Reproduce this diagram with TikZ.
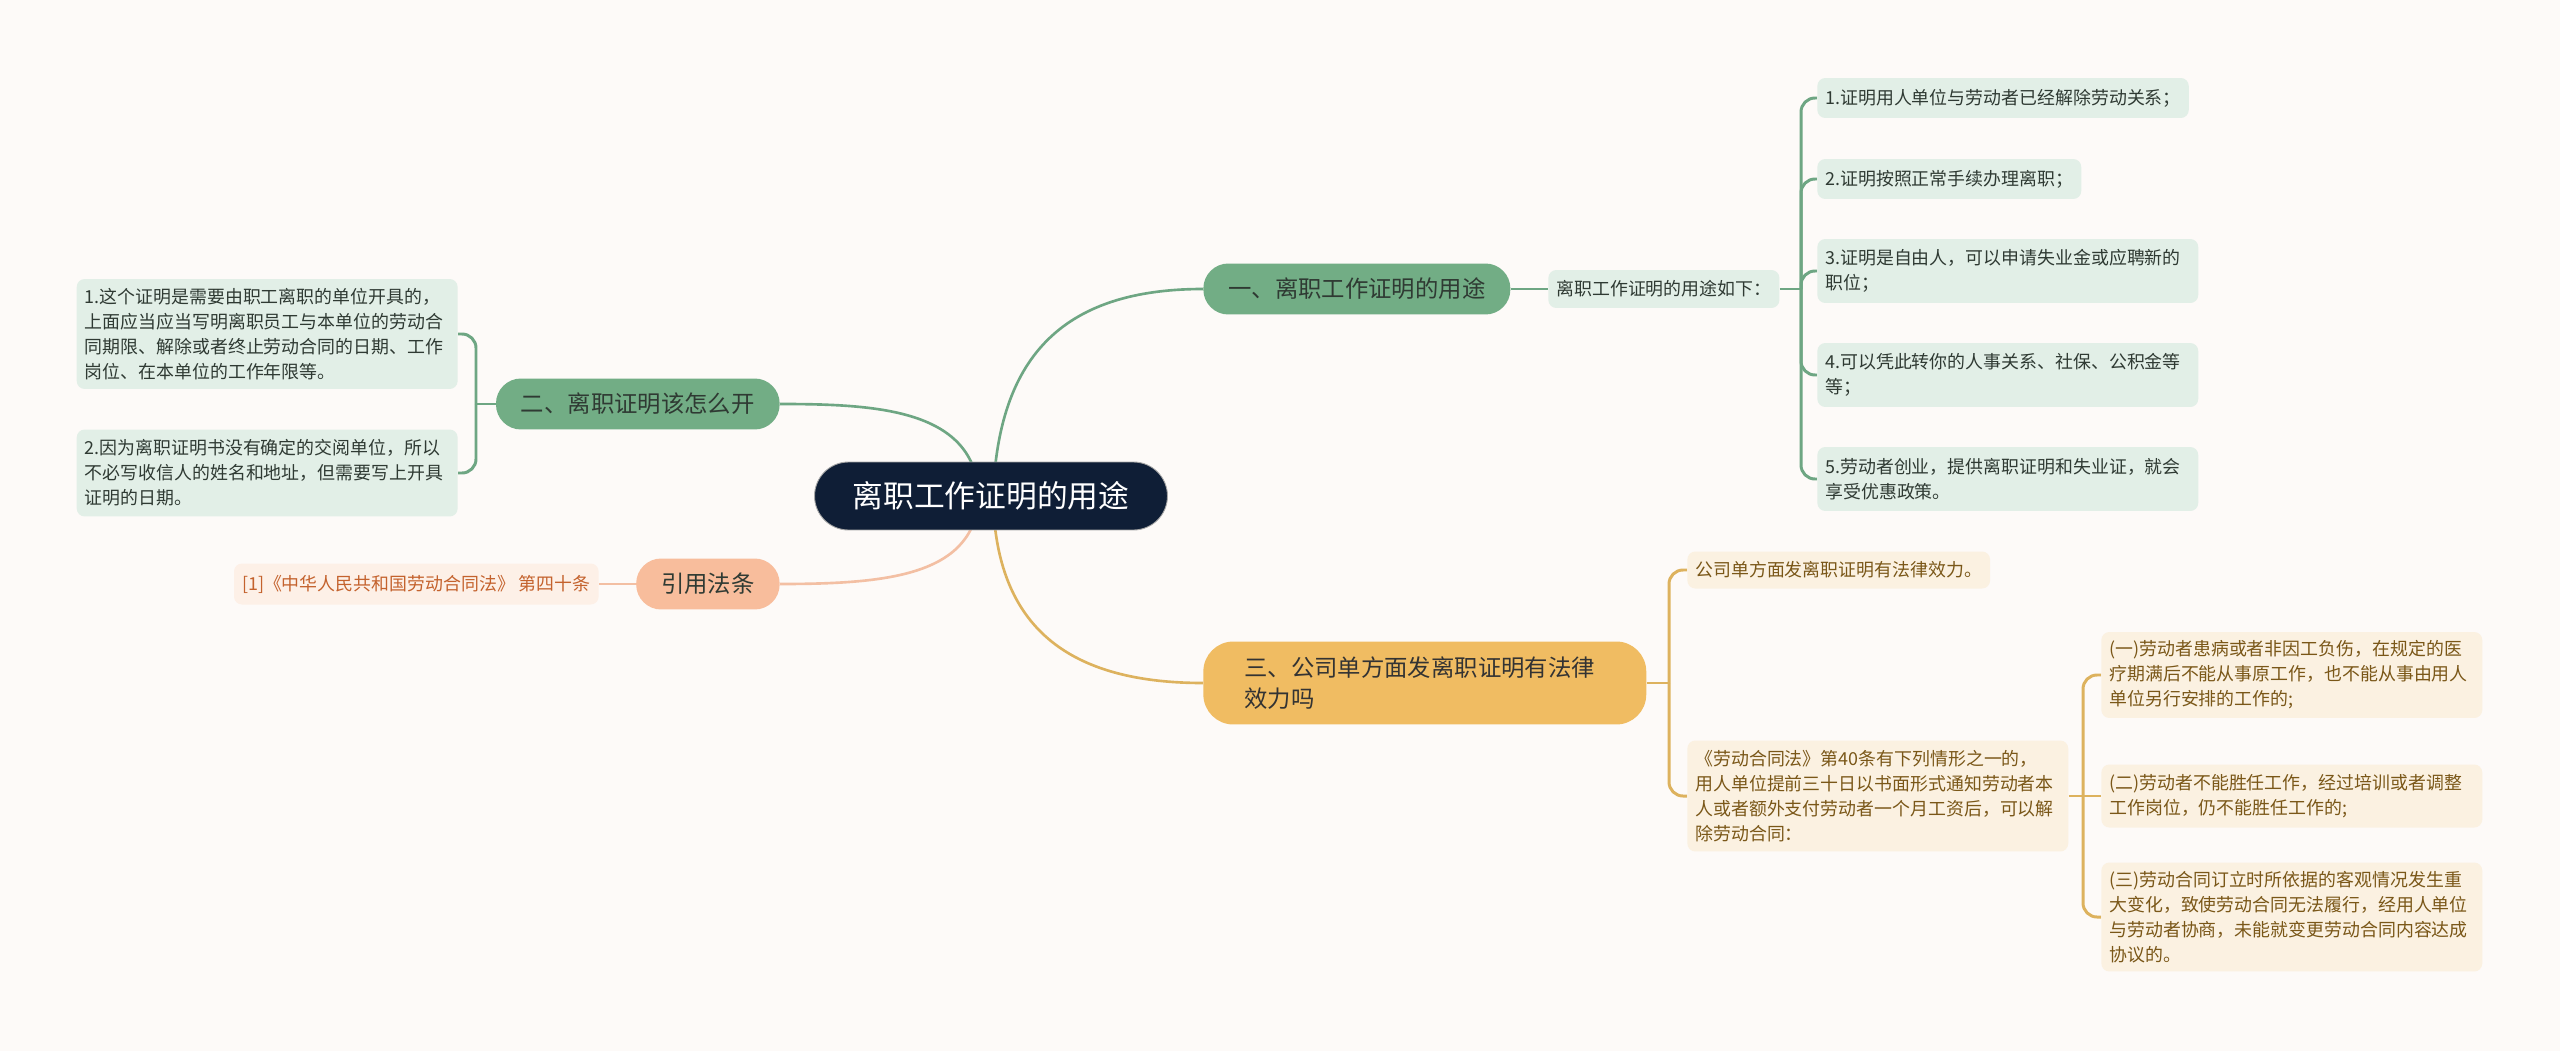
\documentclass[tikz,border=0pt]{standalone}
\usepackage{fontspec}
\setmainfont{Noto Sans CJK SC}
\usepackage{tikz}
\usetikzlibrary{backgrounds}
\definecolor{mBg}{HTML}{FDFAF8}
\definecolor{mNavy}{HTML}{0F1E36}
\definecolor{mText}{HTML}{2F3A33}
\definecolor{mGreen}{HTML}{72AD85}
\definecolor{mGreenLine}{HTML}{6EA683}
\definecolor{mGreenLeaf}{HTML}{E2EFE7}
\definecolor{mSalmon}{HTML}{F8BD9C}
\definecolor{mSalmonLine}{HTML}{F3BFA3}
\definecolor{mSalmonLeaf}{HTML}{FDF0E7}
\definecolor{mSalmonText}{HTML}{C4622D}
\definecolor{mYellow}{HTML}{F0BC62}
\definecolor{mYellowLine}{HTML}{DDB25E}
\definecolor{mYellowLeaf}{HTML}{FBF1E1}
\definecolor{mYellowText}{HTML}{7A5718}

\begin{document}
\begin{tikzpicture}[x=0.02cm, y=-0.02cm,
      rootbox/.style={fill=mNavy, draw=black!35, line width=0.5pt, text=white,
        rounded corners=0.68cm, minimum width=7.06cm, minimum height=1.36cm,
        font=\fontsize{17.5}{21}\selectfont},
      mainbox/.style={rounded corners=0.5cm, minimum height=1.02cm, inner xsep=0.5cm,
        font=\fontsize{13.3}{17.6}\selectfont},
      leafbox/.style={rounded corners=0.16cm, inner xsep=0.16cm, inner ysep=0.16cm,
        align=left, font=\fontsize{10.2}{14.2}\selectfont},
      gleaf/.style={leafbox, fill=mGreenLeaf, text=mText},
      sleaf/.style={leafbox, fill=mSalmonLeaf, text=mSalmonText},
      yleaf/.style={leafbox, fill=mYellowLeaf, text=mYellowText},
      gline/.style={draw=mGreenLine, line width=1.5pt},
      sline/.style={draw=mSalmonLine, line width=1.5pt},
      yline/.style={draw=mYellowLine, line width=1.5pt},
      brace/.style={line width=1.7pt, rounded corners=0.28cm}]
    \useasboundingbox (0,0) rectangle (2560,1051);
    % root
    \node[rootbox] (root) at (991,496) {离职工作证明的用途};
    % branch one
    \node[mainbox, fill=mGreen, text=mText, anchor=west] (one) at (1203,289) {一、离职工作证明的用途};
    \node[gleaf, anchor=west, minimum height=0.76cm] (use) at (1548,289) {离职工作证明的用途如下：};
    \node[gleaf, anchor=west, minimum height=0.8cm] (use1) at (1817,98) {1.证明用人单位与劳动者已经解除劳动关系；};
    \node[gleaf, anchor=west, minimum height=0.8cm] (use2) at (1817,179) {2.证明按照正常手续办理离职；};
    \node[gleaf, anchor=west, text width=7.3cm, minimum height=1.28cm] (use3) at (1817,271) {3.证明是自由人，可以申请失业金或应聘新的\\职位；};
    \node[gleaf, anchor=west, text width=7.3cm, minimum height=1.28cm] (use4) at (1817,375) {4.可以凭此转你的人事关系、社保、公积金等\\等；};
    \node[gleaf, anchor=west, text width=7.3cm, minimum height=1.28cm] (use5) at (1817,479) {5.劳动者创业，提供离职证明和失业证，就会\\享受优惠政策。};
    % branch two
    \node[mainbox, fill=mGreen, text=mText, anchor=east] (two) at (780,404) {二、离职证明该怎么开};
    \node[gleaf, anchor=east, text width=7.3cm, minimum height=2.2cm] (how1) at (458,334) {1.这个证明是需要由职工离职的单位开具的，\\上面应当应当写明离职员工与本单位的劳动合\\同期限、解除或者终止劳动合同的日期、工作\\岗位、在本单位的工作年限等。};
    \node[gleaf, anchor=east, text width=7.3cm, minimum height=1.74cm] (how2) at (458,473) {2.因为离职证明书没有确定的交阅单位，所以\\不必写收信人的姓名和地址，但需要写上开具\\证明的日期。};
    % cited law
    \node[mainbox, fill=mSalmon, text=mText, anchor=east] (law) at (780,584) {引用法条};
    \node[sleaf, anchor=east, minimum height=0.82cm] (law1) at (599,584) {[1]《中华人民共和国劳动合同法》 第四十条};
    % branch three
    \node[mainbox, fill=mYellow, text=black!80, anchor=west, align=left, text width=7.22cm,
      inner xsep=0.82cm, minimum height=1.66cm, rounded corners=0.6cm] (three) at (1203,683)
      {三、公司单方面发离职证明有法律\\效力吗};
    \node[yleaf, anchor=west, minimum height=0.74cm] (valid) at (1687,570) {公司单方面发离职证明有法律效力。};
    \node[yleaf, anchor=west, text width=7.3cm, minimum height=2.22cm] (art) at (1687,796) {《劳动合同法》第40条有下列情形之一的，\\用人单位提前三十日以书面形式通知劳动者本\\人或者额外支付劳动者一个月工资后，可以解\\除劳动合同：};
    \node[yleaf, anchor=west, text width=7.3cm, minimum height=1.72cm] (case1) at (2101,675) {(一)劳动者患病或者非因工负伤，在规定的医\\疗期满后不能从事原工作，也不能从事由用人\\单位另行安排的工作的;};
    \node[yleaf, anchor=west, text width=7.3cm, minimum height=1.26cm] (case2) at (2101,796) {(二)劳动者不能胜任工作，经过培训或者调整\\工作岗位，仍不能胜任工作的;};
    \node[yleaf, anchor=west, text width=7.3cm, minimum height=2.18cm] (case3) at (2101,917) {(三)劳动合同订立时所依据的客观情况发生重\\大变化，致使劳动合同无法履行，经用人单位\\与劳动者协商，未能就变更劳动合同内容达成\\协议的。};
    % joints of the braces
    \coordinate (j1) at (1801,289);
    \coordinate (j2) at (476,404);
    \coordinate (j3) at (1669,683);
    \coordinate (j4) at (2083,796);
    \begin{scope}[on background layer]
      \fill[mBg] (0,0) rectangle (2560,1051);
      % curves from the root
      \draw[gline] (993,496) .. controls (998,370) and (1050,289) .. (one.west);
      \draw[gline] (979,496) .. controls (975,410) and (880,404) .. (two.east);
      \draw[sline] (979,496) .. controls (975,575) and (890,584) .. (law.east);
      \draw[yline] (993,496) .. controls (995,620) and (1060,683) .. (three.west);
      % green braces
      \draw[gline] (one.east) -- (use.west);
      \draw[gline] (use.east) -- (j1);
      \draw[gline, brace] (j1) |- (use1.west);
      \draw[gline, brace] (j1) |- (use2.west);
      \draw[gline, brace] (j1) |- (use3.west);
      \draw[gline, brace] (j1) |- (use4.west);
      \draw[gline, brace] (j1) |- (use5.west);
      \draw[gline] (two.west) -- (j2);
      \draw[gline, brace] (j2) |- (how1.east);
      \draw[gline, brace] (j2) |- (how2.east);
      % salmon
      \draw[sline] (law.west) -- (law1.east);
      % yellow braces
      \draw[yline] (three.east) -- (j3);
      \draw[yline, brace] (j3) |- (valid.west);
      \draw[yline, brace] (j3) |- (art.west);
      \draw[yline] (art.east) -- (j4);
      \draw[yline, brace] (j4) |- (case1.west);
      \draw[yline] (j4) -- (case2.west);
      \draw[yline, brace] (j4) |- (case3.west);
    \end{scope}
  \end{tikzpicture}
\end{document}
